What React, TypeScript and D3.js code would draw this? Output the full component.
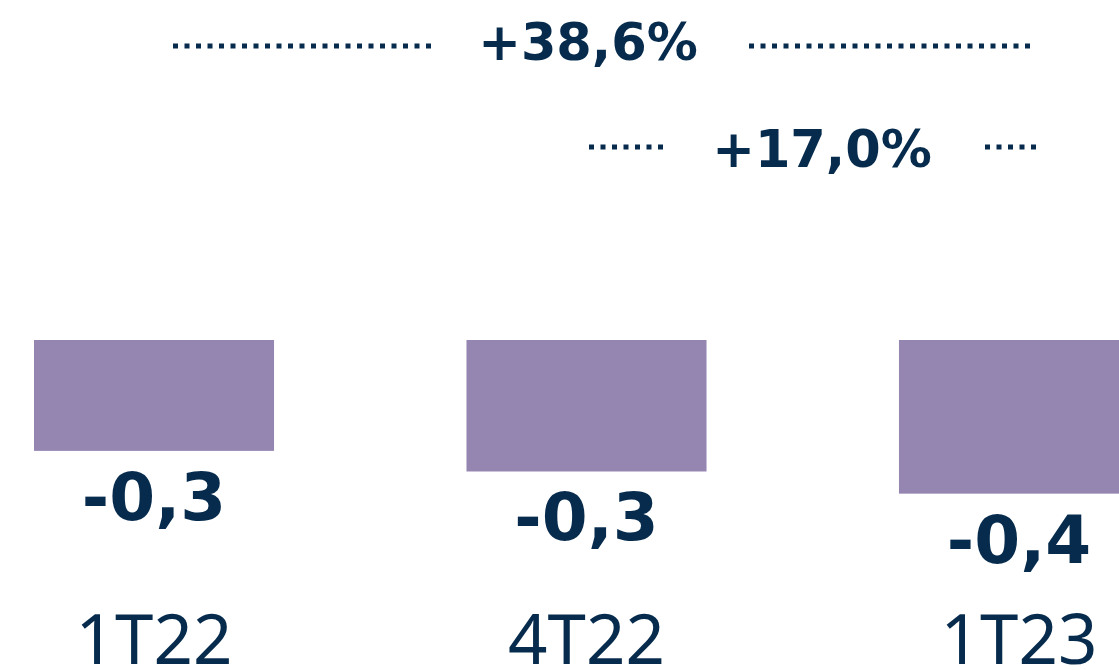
import React from "react";
import * as d3 from "d3";

const categories = ["1T22", "4T22", "1T23"];
const values = [-0.28, -0.332, -0.388];
const changeLabels = ["+38,6%", "+17,0%"];

const W = 1119;
const H = 670;
const NAVY = "#062b4c";
const BAR = "#9486b1";
const BOLD_FONT = "'DejaVu Sans', sans-serif";
const REG_FONT = "'Noto Sans', 'Open Sans', sans-serif";

export default function App() {
  const x = d3.scaleBand<string>().domain(categories).range([34, 1139]).paddingInner(0.445).paddingOuter(0);
  const y = d3.scaleLinear().domain([0, -1]).range([340, 736]);
  const bw = x.bandwidth();
  const fmt = (v: number) => v.toFixed(1).replace(".", ",");

  const ann = [
    { y: 46, textY: 60, left: [173, 432], right: [749, 1031], tx: 588 },
    { y: 147, textY: 167, left: [589, 665], right: [985, 1042], tx: 822 },
  ];

  return (
    <svg width={W} height={H} style={{ position: "absolute", left: 0, top: 0, background: "#fff" }}>
      {values.map((v, i) => {
        const cx = (x(categories[i]) as number) + bw / 2;
        return (
          <g key={categories[i]}>
            <rect x={x(categories[i])} y={y(0)} width={bw} height={y(v) - y(0)} fill={BAR} />
            <text x={cx} y={y(v) + 69} textAnchor="middle" fontFamily={BOLD_FONT} fontWeight={700} fontSize={66} fill={NAVY}>
              {fmt(v)}
            </text>
            <text x={cx} y={664} textAnchor="middle" fontFamily={REG_FONT} fontWeight={400} fontSize={69} fill={NAVY}>
              {categories[i]}
            </text>
          </g>
        );
      })}
      {changeLabels.map((lab, k) => {
        const a = ann[k];
        return (
          <g key={lab}>
            <line x1={a.left[0]} x2={a.left[1]} y1={a.y} y2={a.y} stroke={NAVY} strokeWidth={5} strokeDasharray="5 6.5" />
            <line x1={a.right[0]} x2={a.right[1]} y1={a.y} y2={a.y} stroke={NAVY} strokeWidth={5} strokeDasharray="5 6.5" />
            <text x={a.tx} y={a.textY} textAnchor="middle" fontFamily={BOLD_FONT} fontWeight={700} fontSize={51} fill={NAVY}>
              {lab}
            </text>
          </g>
        );
      })}
    </svg>
  );
}
